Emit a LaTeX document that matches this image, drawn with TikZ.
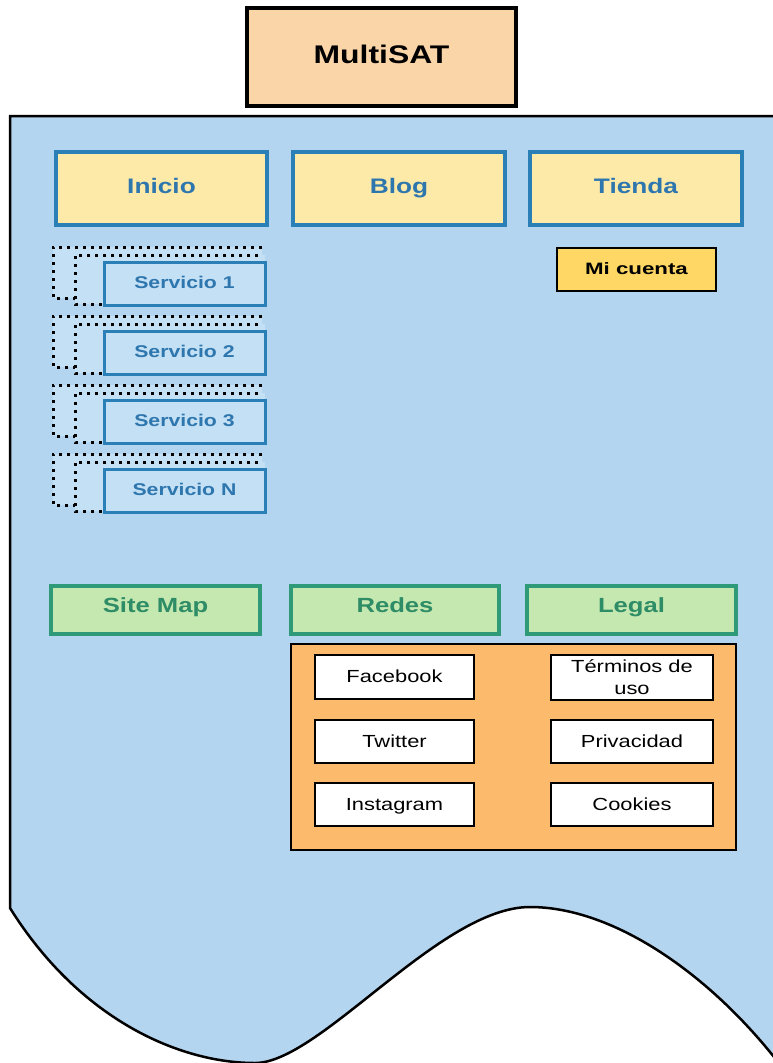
\documentclass[tikz,border=0pt]{standalone}
\usepackage{fontspec}
\setmainfont{Liberation Sans}
\usepackage{graphicx}
\definecolor{bgblue}{HTML}{B4D5EF}
\definecolor{svcfill}{HTML}{C4E0F5}
\definecolor{titlefill}{HTML}{FAD5A8}
\definecolor{navfill}{HTML}{FDEAA8}
\definecolor{navborder}{HTML}{2A7FB6}
\definecolor{navtext}{HTML}{2E76AE}
\definecolor{cuentafill}{HTML}{FFD764}
\definecolor{greenfill}{HTML}{C5E8B0}
\definecolor{greenborder}{HTML}{2E9A78}
\definecolor{greentext}{HTML}{2E8C66}
\definecolor{orangefill}{HTML}{FBBA6C}
\newcommand{\wx}[1]{\scalebox{1.25}[1]{#1}}
\begin{document}
\begin{tikzpicture}[x=1pt,y=-1pt,
  titlebox/.style={draw=black, line width=4pt, fill=titlefill, minimum width=269pt, minimum height=98pt, inner sep=0pt, text height=15pt, text depth=3pt, font=\fontsize{25.5}{28}\selectfont\bfseries},
  navbox/.style={draw=navborder, line width=4pt, fill=navfill, minimum width=211pt, minimum height=73pt, inner sep=0pt, text height=14pt, text depth=4pt, text=navtext, font=\fontsize{21}{24}\selectfont\bfseries},
  cuentabox/.style={draw=black, line width=2pt, fill=cuentafill, minimum width=159pt, minimum height=43pt, inner sep=0pt, text height=12pt, text depth=2.5pt, font=\fontsize{16.5}{19}\selectfont\bfseries},
  svcbox/.style={draw=navborder, line width=3pt, fill=svcfill, minimum width=161pt, minimum height=43pt, inner sep=0pt, text height=12pt, text depth=3pt, text=navtext, font=\fontsize{17}{20}\selectfont\bfseries},
  dots/.style={draw=black, line width=3pt, dash pattern=on 3pt off 5pt},
  greenbox/.style={draw=greenborder, line width=4pt, fill=greenfill, minimum width=209pt, minimum height=48pt, inner sep=0pt, text height=10pt, text depth=4.5pt, text=greentext, font=\fontsize{20.5}{24}\selectfont\bfseries},
  panel/.style={draw=black, line width=2pt, fill=orangefill},
  whitebase/.style={draw=black, line width=2pt, fill=white, minimum width=159pt, minimum height=44pt, inner sep=0pt, align=center, font=\fontsize{17.5}{21}\selectfont},
  whitebox/.style={whitebase, text height=13pt, text depth=2pt}
]
\useasboundingbox (0,0) rectangle (773,1063);
% background page shape
\begin{scope}
\clip (0,0) rectangle (773,1063);
\draw[line width=2.5pt, fill=bgblue, line join=miter]
  (10,908) -- (10,116) -- (800,116) -- (800,1100) -- (795,1085)
  .. controls (725,985) and (620,907) .. (530,907)
  .. controls (440,907) and (320,1063) .. (255,1063)
  .. controls (180,1063) and (80,1020) .. (10,908) -- cycle;
\end{scope}

\node[titlebox] (title) at (381.5,57) {\wx{MultiSAT}};

\node[navbox] (inicio) at (161.5,188.5) {\wx{Inicio}};
\node[navbox, minimum width=212pt] (blog) at (399,188.5) {\wx{Blog}};
\node[navbox, minimum width=212pt] (tienda) at (636,188.5) {\wx{Tienda}};

\node[cuentabox] (cuenta) at (636.5,269.5) {\scalebox{1.35}[1]{Mi cuenta}};

% servicio stacks
\foreach \k/\lab in {0/{Servicio 1},1/{Servicio  2},2/{Servicio 3},3/{Servicio N}}{
  \begin{scope}[yshift={-69*\k pt}]
    \fill[svcfill] (53,247) rectangle (262,298);
    \fill[svcfill] (75,255) rectangle (265,304);
    \draw[dots] (262,247) -- (53,247) -- (53,298) -- (75,298);
    \draw[dots] (258,255) -- (75,255) -- (75,304) -- (104,304);
    \node[svcbox] (svc\k) at (184.5,283.5) {\wx{\lab}};
  \end{scope}
}

\node[greenbox] (sitemap) at (155.5,610) {\wx{Site Map}};
\node[greenbox, minimum width=208pt] (redes) at (395,610) {\wx{Redes}};
\node[greenbox] (legal) at (631.5,610) {\wx{Legal}};

\draw[panel] (291,644) rectangle (736,850);
\node[whitebox] (facebook) at (394.5,677) {\wx{Facebook}};
\node[whitebox, minimum height=43pt] (twitter) at (394.5,741.5) {\wx{Twitter}};
\node[whitebox, minimum height=43pt] (instagram) at (394.5,804.5) {\wx{Instagram}};
\node[whitebase, minimum width=162pt, minimum height=45pt] (terminos) at (632,677) {\wx{Términos de}\\[1pt]\wx{uso}};
\node[whitebox, minimum width=162pt, minimum height=43pt] (privacidad) at (632,741.5) {\wx{Privacidad}};
\node[whitebox, minimum width=162pt, minimum height=43pt] (cookies) at (632,804.5) {\wx{Cookies}};
\end{tikzpicture}
\end{document}
